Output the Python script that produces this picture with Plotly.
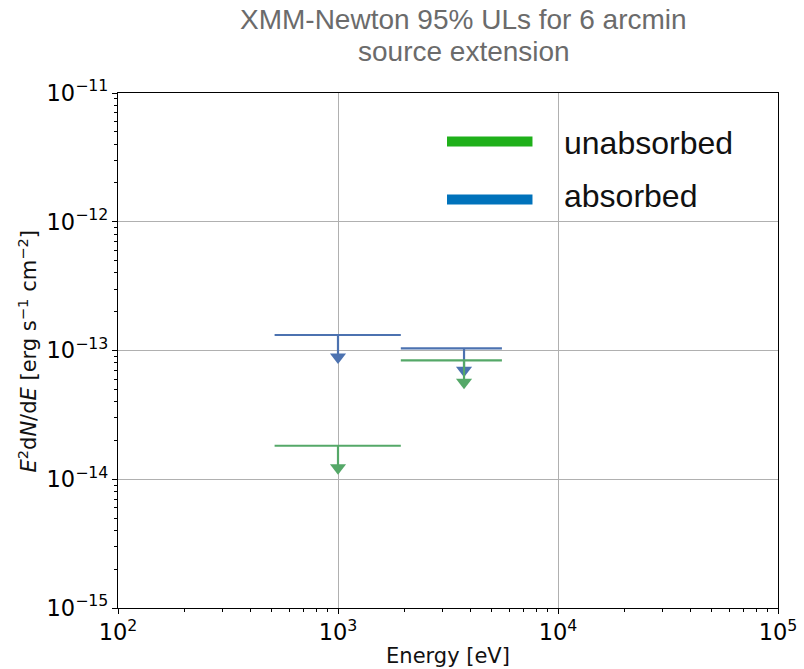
import plotly.graph_objects as go

# Data
bin_lo = [515, 1930]          # eV
bin_hi = [1930, 5560]         # eV
bin_center = [1000, 3740]     # eV (arrow position)
ul_unabsorbed = [1.82e-14, 8.39e-14]
ul_absorbed = [1.32e-13, 1.04e-13]
series_names = ["unabsorbed", "absorbed"]
title_lines = ["XMM-Newton 95% ULs for 6 arcmin", "source extension"]
x_title = "Energy [eV]"
y_title = "<i>E</i><sup>2</sup>d<i>N</i>/d<i>E</i> [erg s<sup>−1</sup> cm<sup>−2</sup>]"

data_colors = {"unabsorbed": "#55a868", "absorbed": "#4c72b0"}
legend_colors = {"unabsorbed": "#1fb01a", "absorbed": "#0072bb"}
arrow_factor = 1.48

fig = go.Figure()

def add_ul(values, color):
    hx, hy = [], []
    for lo, hi, v in zip(bin_lo, bin_hi, values):
        hx += [lo, hi, None]
        hy += [v, v, None]
    fig.add_trace(go.Scatter(x=hx, y=hy, mode="lines",
                             line=dict(color=color, width=2.2),
                             showlegend=False, hoverinfo="skip"))
    sx, sy = [], []
    for c, v in zip(bin_center, values):
        sx += [c, c, None]
        sy += [v, v / arrow_factor, None]
    fig.add_trace(go.Scatter(x=sx, y=sy, mode="lines",
                             line=dict(color=color, width=2.2),
                             showlegend=False, hoverinfo="skip"))
    fig.add_trace(go.Scatter(x=bin_center, y=[v / arrow_factor for v in values],
                             mode="markers",
                             marker=dict(symbol="triangle-down", size=14, color=color,
                                         line=dict(width=0)),
                             showlegend=False, hoverinfo="skip"))

add_ul(ul_absorbed, data_colors["absorbed"])
add_ul(ul_unabsorbed, data_colors["unabsorbed"])

axis_common = dict(
    type="log", showline=True, linecolor="black", linewidth=1, mirror=True,
    ticks="outside", ticklen=5, tickwidth=1, tickcolor="black",
    showgrid=True, gridcolor="#b0b0b0", gridwidth=1,
    dtick=1, exponentformat="power", zeroline=False, automargin=False,
    tickfont=dict(family="DejaVu Sans", size=18, color="black"),
    minor=dict(ticks="outside", ticklen=3, tickcolor="black", dtick="D1", showgrid=False),
)

fig.update_xaxes(range=[2, 5],
                 title=dict(text=x_title, font=dict(family="DejaVu Sans", size=21, color="#111111"), standoff=4),
                 **axis_common)
fig.update_yaxes(range=[-15, -11], **axis_common)

fig.add_annotation(text=y_title, xref="paper", yref="paper",
                   x=-0.137, y=0.499, xanchor="center", yanchor="middle",
                   textangle=-90, showarrow=False,
                   font=dict(family="DejaVu Sans", size=21, color="#111111"))

# Legend drawn as shapes + text
leg_y = {"unabsorbed": 0.906, "absorbed": 0.793}
txt_y = {"unabsorbed": 0.903, "absorbed": 0.8}
for name in series_names:
    fig.add_shape(type="line", xref="paper", yref="paper",
                  x0=0.4985, x1=0.628, y0=leg_y[name], y1=leg_y[name],
                  line=dict(color=legend_colors[name], width=10))
    fig.add_annotation(text=name, xref="paper", yref="paper",
                       x=0.6727, y=txt_y[name], xanchor="left", yanchor="middle",
                       showarrow=False,
                       font=dict(family="Liberation Sans", size=32, color="#111111"))

# Title as two centred text lines
for line, ty in zip(title_lines, [1.142, 1.081]):
    fig.add_annotation(text=line, xref="paper", yref="paper",
                       x=0.524, y=ty, xanchor="center", yanchor="middle",
                       showarrow=False,
                       font=dict(family="Liberation Sans", size=28, color="#6b6b6b"))

fig.update_layout(
    width=804, height=669,
    margin=dict(l=118, r=26, t=93, b=61),
    paper_bgcolor="white", plot_bgcolor="white",
    showlegend=False,
)

fig.write_html("out.html")
